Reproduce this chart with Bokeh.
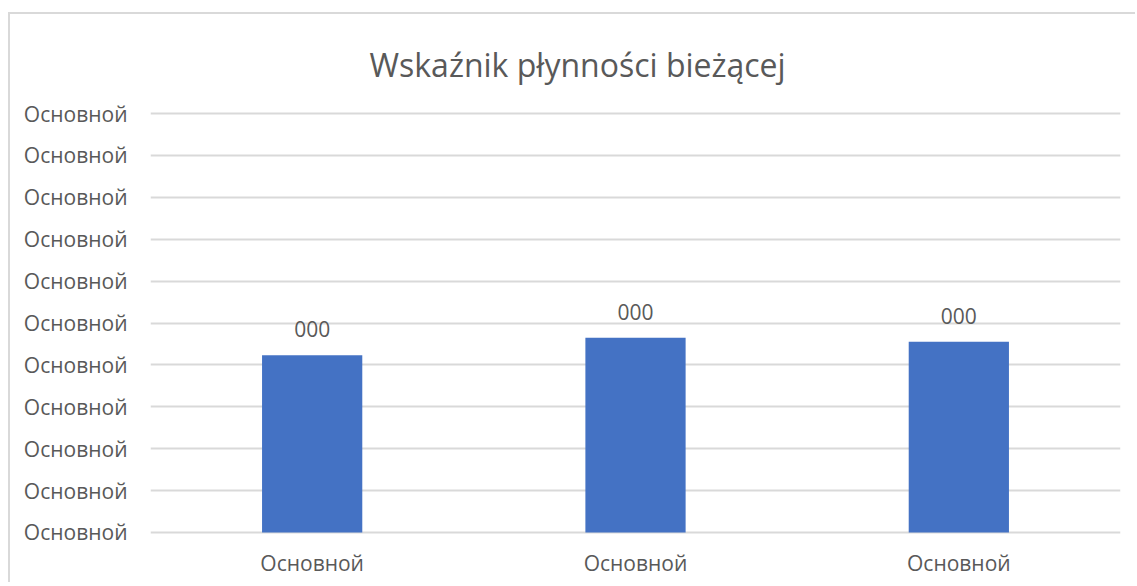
from bokeh.plotting import figure
from bokeh.models import ColumnDataSource, FixedTicker, Range1d
from bokeh.core.properties import value
from bokeh.embed import file_html
from bokeh.resources import INLINE

# ---- data ----
title_text = "Wskaźnik płynności bieżącej"
categories = ["Основной", "Основной", "Основной"]
values = [4.23, 4.65, 4.55]
bar_labels = ["000", "000", "000"]
y_ticks = [0, 1, 2, 3, 4, 5, 6, 7, 8, 9, 10]
y_tick_labels = ["Основной"] * 11

FONT = "Open Sans"
TXT = "#595959"
GRID = "#d9d9d9"
BAR = "#4472C4"

x_pos = [i + 0.5 for i in range(len(categories))]
src = ColumnDataSource(dict(x=x_pos, top=values, label=bar_labels))

p = figure(width=1127, height=570, output_backend="svg", toolbar_location=None,
           x_range=Range1d(0, len(categories)), y_range=Range1d(-0.05, 10.05),
           min_border_left=140, min_border_right=17, min_border_top=96, min_border_bottom=50)

p.styles = {"border-left": "2px solid #d9d9d9", "border-top": "2px solid #d9d9d9",
            "margin-top": "12px", "margin-left": "8px"}
p.outline_line_color = None
p.background_fill_color = "white"
p.border_fill_color = "white"

p.title.text = title_text
p.title.text_font = FONT
p.title.text_font_size = "32px"
p.title.text_font_style = "normal"
p.title.text_color = TXT
p.title.align = "left"
p.title.offset = 219
p.title.standoff = 52

p.vbar(x="x", top="top", bottom=0, width=0.31, source=src, fill_color=BAR, line_color=None)
p.text(x="x", y="top", text="label", source=src, text_align="center", text_baseline="alphabetic",
       y_offset=-26, text_font=value(FONT), text_font_size="21px", text_color=TXT)

# y axis
p.yaxis.ticker = FixedTicker(ticks=y_ticks)
p.yaxis.major_label_overrides = {t: l for t, l in zip(y_ticks, y_tick_labels)}
p.yaxis.axis_line_color = None
p.yaxis.major_tick_line_color = None
p.yaxis.minor_tick_line_color = None
p.yaxis.major_label_standoff = 17
p.yaxis.major_label_text_font = FONT
p.yaxis.major_label_text_font_size = "21px"
p.yaxis.major_label_text_color = TXT

# x axis
p.xaxis.ticker = FixedTicker(ticks=x_pos)
p.xaxis.major_label_overrides = {x: c for x, c in zip(x_pos, categories)}
p.xaxis.axis_line_color = None
p.xaxis.major_tick_line_color = None
p.xaxis.minor_tick_line_color = None
p.xaxis.major_label_standoff = 8
p.xaxis.major_label_text_font = FONT
p.xaxis.major_label_text_font_size = "21px"
p.xaxis.major_label_text_color = TXT

p.ygrid.grid_line_color = GRID
p.ygrid.grid_line_width = 2
p.xgrid.grid_line_color = None

open("out.html", "w").write(file_html(p, INLINE))
